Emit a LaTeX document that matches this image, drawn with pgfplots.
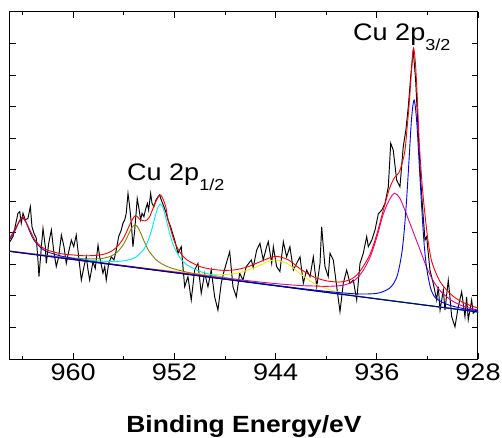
\documentclass[border=0pt]{standalone}
\usepackage{fontspec}
\setmainfont{Liberation Sans}[FakeStretch=1.13]
\usepackage{pgfplots}
\pgfplotsset{compat=1.18}
\definecolor{navyb}{RGB}{0,0,128}
\definecolor{olivec}{RGB}{128,128,0}
\definecolor{yelc}{RGB}{240,240,0}
\definecolor{cyanc}{RGB}{0,235,235}
\definecolor{lbc}{RGB}{20,20,190}
\begin{document}
\begin{tikzpicture}
\begin{axis}[
 width=468bp, height=347bp, scale only axis,
 x dir=reverse, xmin=928, xmax=965, ymin=0, ymax=11,
 xtick={928,936,944,952,960}, minor xtick={932,940,948,956,964},
 ytick={1,...,10}, yticklabels={},
 tick align=inside, major tick length=6bp, minor tick length=3bp,
 axis line style={line width=1bp},
 every tick/.append style={line width=0.9bp, black},
 tick label style={font=\fontsize{24}{24}\selectfont, inner sep=0pt},
 /pgf/number format/assume math mode=true, /pgf/number format/1000 sep={},
 xticklabel style={anchor=base, yshift=-21bp},
 xlabel={\textbf{Binding Energy/eV}},
 xlabel style={at={(axis description cs:0.5,0)}, anchor=base, yshift=-73bp, inner sep=0pt, font=\fontsize{23.5}{24}\selectfont},
 clip=false,
 every axis plot/.append style={line width=0.9bp},
]
% experimental data
\addplot[black, line width=0.95bp] coordinates {
(965.0,3.72)(964.76,3.88)(964.37,4.62)(964.23,4.67)(964.11,4.30)(963.97,4.62)(963.79,4.41)(963.58,4.46)(963.39,4.83)(963.26,4.19)
(963.10,3.98)(962.92,3.83)(962.79,3.14)(962.71,2.61)(962.52,3.56)(962.39,4.14)(962.21,3.56)(962.13,3.03)(961.94,3.67)(961.73,4.09)
(961.55,3.45)(961.34,2.93)(961.15,3.24)(960.94,3.93)(960.73,3.56)(960.55,3.03)(960.36,3.40)(960.15,3.77)(959.96,3.56)(959.76,3.93)
(959.57,3.24)(959.36,2.50)(959.15,2.93)(958.97,3.24)(958.83,2.82)(958.70,2.50)(958.44,3.08)(958.26,2.87)(958.04,3.61)(957.91,3.24)
(957.78,2.98)(957.65,2.72)(957.51,2.93)(957.39,2.50)(957.20,3.03)(956.99,3.24)(956.78,3.14)(956.60,3.45)(956.41,3.88)(956.20,4.09)
(956.07,4.30)(955.93,4.41)(955.81,4.62)(955.67,5.25)(955.54,4.83)(955.41,4.30)(955.28,3.56)(955.14,4.09)(955.01,4.72)(954.94,5.09)
(954.83,4.83)(954.67,4.41)(954.56,4.62)(954.41,4.51)(954.30,4.72)(954.14,4.93)(954.04,4.72)(953.88,5.25)(953.77,4.93)(953.62,4.83)
(953.46,5.04)(953.30,5.14)(953.17,5.20)(953.04,5.04)(952.83,4.83)(952.65,4.62)(952.51,4.41)(952.30,4.19)(951.98,3.77)(951.72,3.35)
(951.46,3.56)(951.19,2.29)(950.93,2.61)(950.67,1.87)(950.40,2.82)(950.14,3.03)(949.88,2.08)(949.61,2.72)(949.35,2.29)(949.09,2.82)
(948.82,1.97)(948.56,1.55)(948.30,2.40)(948.10,2.75)(947.90,3.03)(947.63,3.40)(947.37,2.29)(947.11,1.97)(946.84,2.72)(946.58,2.50)
(946.32,2.93)(945.92,3.14)(945.77,2.90)(945.50,3.45)(945.24,3.67)(944.98,3.14)(944.71,3.56)(944.58,3.72)(944.31,3.03)(944.18,3.56)
(943.92,2.93)(943.66,2.77)(943.39,3.72)(943.13,3.24)(942.87,3.56)(942.60,2.82)(942.34,3.03)(942.07,3.24)(941.81,2.40)(941.55,2.82)
(941.28,2.61)(941.02,3.24)(940.75,2.29)(940.49,3.03)(940.36,4.19)(940.10,2.93)(939.84,2.61)(939.70,3.35)(939.44,3.14)(939.17,2.29)
(938.91,1.50)(938.65,2.40)(938.38,2.82)(938.12,2.40)(937.86,2.50)(937.59,1.87)(937.33,3.03)(937.07,3.35)(936.80,3.88)(936.67,3.56)
(936.40,3.77)(936.14,4.09)(935.88,4.60)(935.61,4.72)(935.35,4.93)(935.09,5.46)(934.90,6.84)(934.70,6.62)(934.43,5.67)(934.17,5.46)
(933.91,6.73)(933.70,7.26)(933.51,8.00)(933.32,8.95)(933.12,9.79)(932.93,8.84)(932.72,7.15)(932.53,5.67)(932.33,4.51)(932.19,3.77)
(932.06,3.88)(931.80,2.82)(931.54,2.40)(931.27,1.87)(931.14,2.29)(931.00,1.55)(930.74,2.19)(930.61,1.55)(930.35,2.50)(930.22,1.97)
(930.08,1.34)(929.82,1.02)(929.56,1.66)(929.29,2.13)(929.03,1.34)(928.90,1.97)(928.77,1.24)(928.50,1.87)(928.38,1.45)(928.11,1.55)
(928.00,1.46)};
% yellow component
\addplot[yelc, smooth] coordinates {
(965,3.41)(960,3.161)(956,2.963)(953,2.823)(951,2.734)(950,2.702)(949,2.68)(948,2.678)(947,2.726)(946,2.844)(945,3.012)
(944.5,3.106)(944,3.14)(943.5,3.094)(943,3.009)(942,2.687)(941,2.405)(940,2.233)(939,2.121)(938,2.039)(937,1.972)(936,1.905)(928,1.49)};
% olive component
\addplot[olivec, smooth] coordinates {
(965,3.422)(962,3.280)(960,3.200)(959,3.175)(958,3.178)(957.5,3.204)(957,3.265)(956.5,3.395)(956,3.654)(955.75,3.85)(955.5,4.064)
(955.3,4.20)(955.1,4.247)(954.9,4.18)(954.7,4.023)(954.5,3.83)(954.25,3.602)(954,3.416)(953.5,3.165)(953,3.017)(952.5,2.921)(952,2.852)
(951,2.753)(950,2.677)(949,2.612)(948,2.552)(946,2.439)(944,2.33)(940,2.118)(928,1.492)};
% cyan component
\addplot[cyanc, smooth] coordinates {
(965,3.421)(962,3.274)(960,3.183)(958,3.109)(957,3.091)(956.5,3.094)(956,3.111)(955.5,3.153)(955,3.245)(954.5,3.436)(954.25,3.601)
(954,3.839)(953.75,4.164)(953.5,4.549)(953.3,4.812)(953.1,4.913)(952.9,4.792)(952.7,4.508)(952.5,4.177)(952.25,3.809)(952,3.529)
(951.5,3.177)(951,2.982)(950,2.780)(949,2.667)(948,2.585)(946,2.454)(944,2.338)(940,2.122)(928,1.492)};
% magenta component
\addplot[magenta, smooth] coordinates {
(965,3.42)(960,3.166)(955,2.911)(950,2.662)(948,2.568)(946,2.474)(944,2.39)(942,2.327)(941,2.315)(940,2.303)(939,2.321)
(938.5,2.355)(938,2.429)(937.5,2.583)(937,2.857)(936.5,3.261)(936,3.855)(935.5,4.579)(935,5.053)(934.6,5.253)(934.2,5.112)
(933.8,4.741)(933.4,4.32)(933.0,3.899)(932.5,3.374)(932.0,2.848)(931.5,2.452)(931.0,2.166)(930.5,1.98)(930.0,1.834)(929.5,1.728)
(929,1.652)(928.5,1.596)(928,1.55)};
% main blue component
\addplot[blue, smooth] coordinates {
(965,3.41)(945,2.382)(940,2.146)(938.05,2.076)(937.05,2.059)(936.05,2.077)(935.55,2.131)(935.05,2.226)(934.65,2.405)(934.35,2.689)
(934.05,3.284)(933.85,3.983)(933.65,5.013)(933.45,6.323)(933.25,7.632)(933.05,8.212)(932.85,7.55)(932.65,6.2)(932.45,4.8)(932.25,3.6)
(932.05,2.85)(931.75,2.25)(931.45,1.98)(931.05,1.85)(930.55,1.75)(930.05,1.68)(929.05,1.59)(928,1.53)};
% left small component
\addplot[lbc, smooth] coordinates {
(965,3.81)(964.75,3.952)(964.5,4.153)(964.25,4.37)(964,4.468)(963.75,4.344)(963.5,4.101)(963.25,3.874)(963,3.707)(962.5,3.503)
(962,3.392)(961,3.268)(960,3.189)(959,3.123)(958,3.064)(956,2.953)(953,2.793)(948,2.530)(940,2.114)(928,1.49)};
% background
\addplot[navyb] coordinates {(965,3.41)(928,1.49)};
% envelope
\addplot[red, smooth] coordinates {
(965,3.845)(964.5,4.191)(964,4.508)(963.5,4.144)(963,3.754)(962.5,3.554)(962,3.448)(961,3.34)(960,3.297)(959,3.272)(958,3.291)
(957.5,3.331)(957,3.412)(956.5,3.571)(956,3.85)(955.5,4.28)(955.1,4.54)(954.7,4.42)(954.35,4.38)(954,4.48)(953.5,4.96)(953.1,5.2)
(952.7,4.85)(952.5,4.41)(952,3.724)(951.5,3.349)(951,3.14)(950,2.934)(949,2.844)(948,2.809)(947,2.84)(946,2.952)(945,3.122)
(944,3.255)(943,3.142)(942,2.841)(941,2.604)(940,2.479)(939,2.439)(938.5,2.466)(938,2.536)(937.5,2.695)(937,2.982)(936.5,3.35)
(936,3.95)(935.5,4.7)(935,5.4)(934.6,5.75)(934.2,5.95)(933.8,6.55)(933.6,7.35)(933.4,8.3)(933.25,9.2)(933.1,9.86)(932.95,9.4)
(932.8,8.3)(932.65,6.9)(932.45,5.7)(932.25,4.8)(932,3.9)(931.75,3.25)(931.5,2.9)(931,2.45)(930.5,2.2)(930,2.0)(929.5,1.86)
(929,1.76)(928.5,1.68)(928,1.62)};
\node[anchor=base west, inner sep=0pt, font=\fontsize{24}{24}\selectfont] at (axis cs:955.75,5.674)
  {Cu 2p\raisebox{-10bp}{\fontsize{16}{16}\selectfont 1/2}};
\node[anchor=base west, inner sep=0pt, font=\fontsize{24}{24}\selectfont] at (axis cs:937.88,10.09)
  {Cu 2p\raisebox{-10bp}{\fontsize{16}{16}\selectfont 3/2}};
\end{axis}
\pgfresetboundingbox
\path[use as bounding box] ([shift={(-10bp,-79bp)}]current axis.south west) rectangle ([shift={(24bp,12bp)}]current axis.north east);
\end{tikzpicture}
\end{document}
